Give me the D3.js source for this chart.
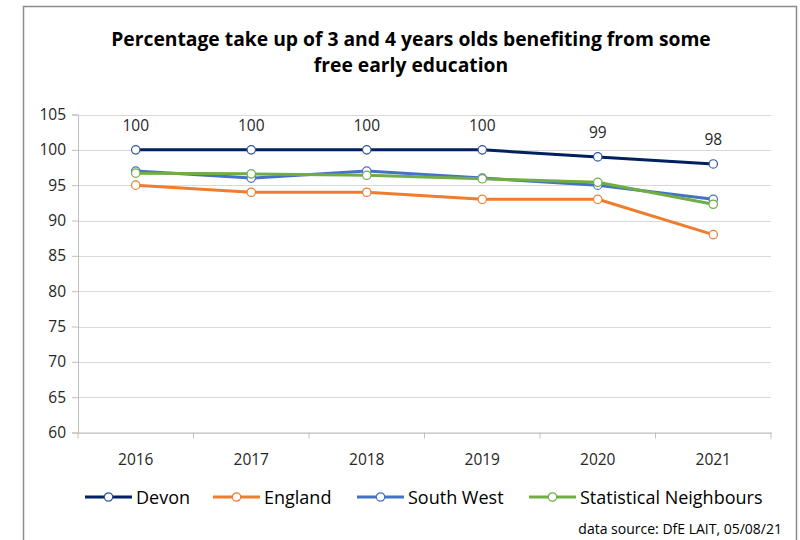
<!DOCTYPE html>
<html><head><meta charset="utf-8">
<script src="https://cdn.jsdelivr.net/npm/d3@7"></script>
<style>body{margin:0;background:#fff}svg{display:block}</style>
</head><body>
<script>
const years = ["2016","2017","2018","2019","2020","2021"];
const devon = [100,100,100,100,99,98];
const england = [95,94,94,93,93,88];
const southWest = [97,96,97,96,95,93];
const statNeighbours = [96.7,96.6,96.4,95.9,95.4,92.3];
const yTicks = [60,65,70,75,80,85,90,95,100,105];
const seriesNames = ["Devon","England","South West","Statistical Neighbours"];
const seriesColors = ["#002060","#ED7D31","#4472C4","#70AD47"];
const devonLabels = ["100","100","100","100","99","98"];
const titleLines = ["Percentage take up of 3 and 4 years olds benefiting from some","free early education"];

const W=800,H=540;
const font="'Open Sans', sans-serif";
const svg=d3.select("body").append("svg").attr("width",W).attr("height",H);
svg.append("rect").attr("width",W).attr("height",H).attr("fill","#fff");
// border
svg.append("path").attr("d","M23.5,545 V6.5 H796.5 V545").attr("fill","none").attr("stroke","#8c8c8c").attr("stroke-width",1.5);

const x=d3.scaleBand().domain(years).range([78,771]);
const y=d3.scaleLinear().domain([60,105]).range([432.5,114.5]);

// title
svg.append("g").selectAll("text").data(titleLines).join("text")
  .attr("x",411).attr("y",(d,i)=>46+i*26).attr("text-anchor","middle")
  .attr("font-family",font).attr("font-weight","bold").attr("font-size",19.3).attr("fill","#000").text(d=>d);

// gridlines
svg.append("g").selectAll("line").data(yTicks).join("line")
  .attr("x1",78).attr("x2",771).attr("y1",d=>Math.round(y(d))+0.5).attr("y2",d=>Math.round(y(d))+0.5)
  .attr("stroke","#d9d9d9").attr("stroke-width",1);

// y axis
const ya=svg.append("g").attr("transform","translate(78,0)").call(d3.axisLeft(y).tickValues(yTicks).tickSize(6).tickPadding(6));
ya.select(".domain").attr("stroke","#bfbfbf");
ya.selectAll(".tick line").attr("stroke","#bfbfbf");
ya.selectAll("text").attr("font-family",font).attr("font-size",15.5).attr("fill","#262626");

// x axis
const xa=svg.append("g").attr("transform","translate(0,432.5)").call(d3.axisBottom(x).tickSize(0).tickPadding(21));
xa.select(".domain").attr("stroke","#bfbfbf");
xa.selectAll("text").attr("font-family",font).attr("font-size",15.5).attr("fill","#262626");
// boundary ticks
const bounds=years.map(d=>x(d)).concat([x.range()[1]]);
svg.append("g").selectAll("line").data(bounds).join("line")
  .attr("x1",d=>d).attr("x2",d=>d).attr("y1",432.5).attr("y2",438.5).attr("stroke","#bfbfbf");

const cx=d=>x(d)+x.bandwidth()/2;
const allSeries=[devon,england,southWest,statNeighbours];
const line=d3.line().x((d,i)=>cx(years[i])).y(d=>y(d));
allSeries.forEach((s,k)=>{
  const g=svg.append("g");
  g.append("path").datum(s).attr("d",line).attr("fill","none").attr("stroke",seriesColors[k]).attr("stroke-width",3).attr("stroke-linejoin","round");
  g.selectAll("circle").data(s).join("circle").attr("cx",(d,i)=>cx(years[i])).attr("cy",d=>y(d)).attr("r",4.2)
   .attr("fill","#fff").attr("stroke",k===0?"#2F5597":seriesColors[k]).attr("stroke-width",1.2);
});

// Devon labels
svg.append("g").selectAll("text").data(devonLabels).join("text")
  .attr("x",(d,i)=>cx(years[i])).attr("y",(d,i)=>y(devon[i])-19).attr("text-anchor","middle")
  .attr("font-family",font).attr("font-size",15.5).attr("fill","#262626").text(d=>d);

// legend
const legX=[85,213,357,529];
const lg=svg.append("g");
seriesNames.forEach((n,k)=>{
  const g=lg.append("g").attr("transform",`translate(${legX[k]},497)`);
  g.append("line").attr("x1",0).attr("x2",47).attr("stroke",seriesColors[k]).attr("stroke-width",3);
  g.append("circle").attr("cx",23.5).attr("r",4.2).attr("fill","#fff").attr("stroke",k===0?"#2F5597":seriesColors[k]).attr("stroke-width",1.2);
  g.append("text").attr("x",51).attr("y",6.5).attr("font-family",font).attr("font-size",18).attr("fill","#000").text(n);
});

svg.append("text").attr("x",782).attr("y",534).attr("text-anchor","end").attr("font-family",font).attr("font-size",14).attr("fill","#000").text("data source: DfE LAIT, 05/08/21");
</script>
</body></html>
